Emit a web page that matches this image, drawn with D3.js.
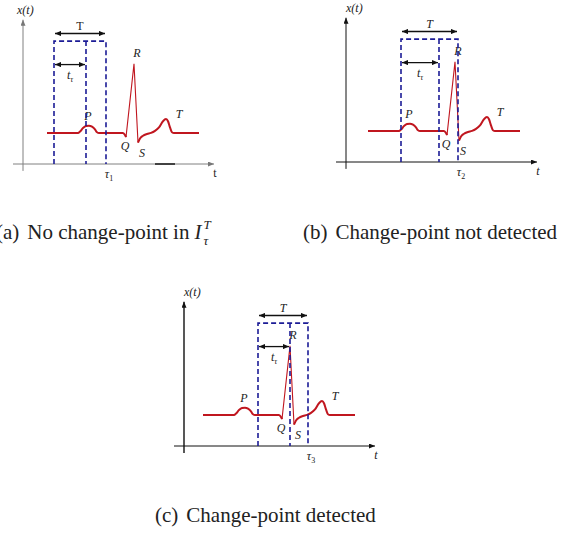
<!DOCTYPE html>
<html>
<head>
<meta charset="utf-8">
<script src="https://cdn.jsdelivr.net/npm/d3@7"></script>
<style>
  body { margin: 0; background: #fff; }
  svg text { font-family: "Liberation Serif", "Times New Roman", serif; fill: #222; }
</style>
</head>
<body>
<div id="chart"></div>
<script>
// ECG template: time since start of trace, amplitude (R peak = 1)
const ecgTime = [0, 31, 33, 36, 39, 42, 45, 48, 50, 52, 76, 78, 79, 87, 91, 93, 96, 100, 104, 108, 112, 116, 119, 121, 123, 125, 127, 152];
const ecgAmp = [0, 0, 0.02, 0.07, 0.1, 0.105, 0.09, 0.05, 0.01, 0, 0, -0.03, -0.06, 1.0, -0.14, -0.08, -0.04, -0.015, 0, 0.03, 0.08, 0.17, 0.2, 0.17, 0.08, 0.01, 0, 0];
const waveNames = ["P", "Q", "R", "S", "T"];
const waveIndex = [5, 12, 13, 14, 22];

// per panel
const panelIds = ["a", "b", "c"];
const captions = ["No change-point in", "Change-point not detected", "Change-point detected"];
const tauSubs = ["1", "2", "3"];
const ecgShift = [24, 22, 19];
const windowStart = [31, 55, 74];
const windowTau = [32, 38, 32];
const windowLen = [52, 57, 50];

const W = 564, H = 540;
const origins = [[23, 164], [346, 162], [184, 446]];
const captionPos = [[-4, 239], [303, 239], [155, 522]];
const red = "#c0161f", navy = "#1c1c96";

const svg = d3.select("#chart").append("svg")
  .attr("width", W)
  .attr("height", H)
  .style("background", "#fff");

const defs = svg.append("defs");
function head(id, color, len, half) {
  defs.append("marker")
    .attr("id", id)
    .attr("markerUnits", "userSpaceOnUse")
    .attr("viewBox", `${-len} ${-half} ${len} ${half * 2}`)
    .attr("refX", 0).attr("refY", 0)
    .attr("markerWidth", len).attr("markerHeight", half * 2)
    .attr("orient", "auto-start-reverse")
    .append("path")
    .attr("d", `M${-len},${-half}L0,0L${-len},${half}Z`)
    .style("fill", color);
}
head("axisGray", "#777", 6, 2.5);
head("axisBlack", "#111", 6, 2.5);
head("dim", "#111", 6, 2.6);

const lineCurve = d3.line()
  .x(d => d[0]).y(d => d[1])
  .curve(d3.curveMonotoneX);
const lineStraight = d3.line().x(d => d[0]).y(d => d[1]);

panelIds.forEach((id, i) => {
  const [ox, oy] = origins[i];
  const x = d3.scaleLinear().domain([0, 200]).range([ox, ox + 200]);
  const y = d3.scaleLinear().domain([-0.45, 1.65]).range([oy, oy - 145]);
  const g = svg.append("g");
  const gray = i === 0;
  const axisColor = gray ? "#808080" : "#111";

  // axes
  g.append("line")
    .attr("x1", x(-10)).attr("x2", x(191))
    .attr("y1", y(-0.45)).attr("y2", y(-0.45))
    .style("stroke", axisColor).style("stroke-width", 1)
    .attr("marker-end", `url(#${gray ? "axisGray" : "axisBlack"})`);
  g.append("line")
    .attr("x1", x(0)).attr("x2", x(0))
    .attr("y1", y(-0.55)).attr("y2", y(1.64))
    .style("stroke", axisColor).style("stroke-width", i === 2 ? 1.4 : 1)
    .attr("marker-end", `url(#${gray ? "axisGray" : "axisBlack"})`);
  if (gray) {
    g.append("line")
      .attr("x1", x(132)).attr("x2", x(152))
      .attr("y1", y(-0.45)).attr("y2", y(-0.45))
      .style("stroke", "#222").style("stroke-width", 1.6);
  }

  g.append("text")
    .attr("x", x(0) - (gray ? 6 : 0)).attr("y", y(1.64) - 6)
    .style("font-size", "12px").style("font-style", "italic")
    .text("x(t)");
  g.append("text")
    .attr("x", x(192)).attr("y", oy + 13)
    .attr("text-anchor", "middle")
    .style("font-size", "12px").style("font-style", gray ? "normal" : "italic")
    .text("t");

  // ECG trace
  const pts = ecgTime.map((t, k) => [x(ecgShift[i] + t), y(ecgAmp[k])]);
  const qi = waveIndex[1], si = waveIndex[3];
  g.append("path")
    .attr("d", lineCurve(pts.slice(0, qi + 1)))
    .style("fill", "none").style("stroke", red).style("stroke-width", 2);
  g.append("path")
    .attr("d", lineStraight(pts.slice(qi, si + 1)))
    .style("fill", "none").style("stroke", red).style("stroke-width", 1.1)
    .style("stroke-linejoin", "miter");
  g.append("path")
    .attr("d", lineCurve(pts.slice(si)))
    .style("fill", "none").style("stroke", red).style("stroke-width", 2);

  const offs = { P: [-1, -6], Q: [-1, 13], R: [3, -7], S: [4, 14], T: [13, -1] };
  waveNames.forEach((n, k) => {
    const p = pts[waveIndex[k]];
    const px = n === "P" ? x(ecgShift[i] + 42) : p[0];
    g.append("text")
      .attr("x", px + offs[n][0]).attr("y", p[1] + offs[n][1])
      .attr("text-anchor", "middle")
      .style("font-size", "12px").style("font-style", "italic")
      .text(n);
  });

  // dashed window
  const x0 = x(windowStart[i]), xm = x(windowStart[i] + windowTau[i]),
        x1 = x(windowStart[i] + windowLen[i]);
  const yTop = y(1.33), yBot = y(-0.45);
  g.append("path")
    .attr("d", `M${x0},${yBot}V${yTop}H${x1}V${yBot}M${xm},${yTop}V${yBot}`)
    .style("fill", "none").style("stroke", navy)
    .style("stroke-width", 1.6).style("stroke-dasharray", "5,3");

  // dimension arrows
  const yT = y(1.44), yTau = y(0.99);
  g.append("line")
    .attr("x1", x0 + 1).attr("x2", x1 - 1).attr("y1", yT).attr("y2", yT)
    .style("stroke", "#111").style("stroke-width", 1.3)
    .attr("marker-start", "url(#dim)").attr("marker-end", "url(#dim)");
  g.append("line")
    .attr("x1", x0 + 1).attr("x2", xm - 1).attr("y1", yTau).attr("y2", yTau)
    .style("stroke", "#111").style("stroke-width", 1.3)
    .attr("marker-start", "url(#dim)").attr("marker-end", "url(#dim)");
  g.append("text")
    .attr("x", (x0 + x1) / 2).attr("y", yT - 4)
    .attr("text-anchor", "middle")
    .style("font-size", "12px").style("font-style", gray ? "normal" : "italic")
    .text("T");
  const tt = g.append("text")
    .attr("x", (x0 + xm) / 2).attr("y", yTau + 14)
    .attr("text-anchor", "middle")
    .style("font-size", "12px").style("font-style", "italic");
  tt.append("tspan").text("t");
  tt.append("tspan").attr("dy", 3).style("font-size", "8px").text("τ");

  const tau = g.append("text")
    .attr("x", x1 + 3).attr("y", oy + 14)
    .attr("text-anchor", "middle")
    .style("font-size", "12px").style("font-style", "italic");
  tau.append("tspan").text("τ");
  tau.append("tspan").attr("dy", 3).style("font-size", "8px").style("font-style", "normal").text(tauSubs[i]);

  // caption
  const [cx, cy] = captionPos[i];
  const lab = svg.append("text")
    .attr("x", cx).attr("y", cy)
    .style("font-size", "21px")
    .text(`(${id})`);
  const main = svg.append("text")
    .attr("x", cx + lab.node().getComputedTextLength() + 8).attr("y", cy)
    .style("font-size", "21px")
    .text(captions[i]);
  if (i === 0) {
    const ix = +main.attr("x") + main.node().getComputedTextLength() + 5;
    const I = svg.append("text")
      .attr("x", ix).attr("y", cy)
      .style("font-size", "21px").style("font-style", "italic")
      .text("I");
    const sx = ix + I.node().getComputedTextLength() + 2;
    svg.append("text").attr("x", sx).attr("y", cy - 10)
      .style("font-size", "13px").style("font-style", "italic").text("T");
    svg.append("text").attr("x", sx).attr("y", cy + 6)
      .style("font-size", "13px").style("font-style", "italic").text("τ");
  }
});
</script>
</body>
</html>
